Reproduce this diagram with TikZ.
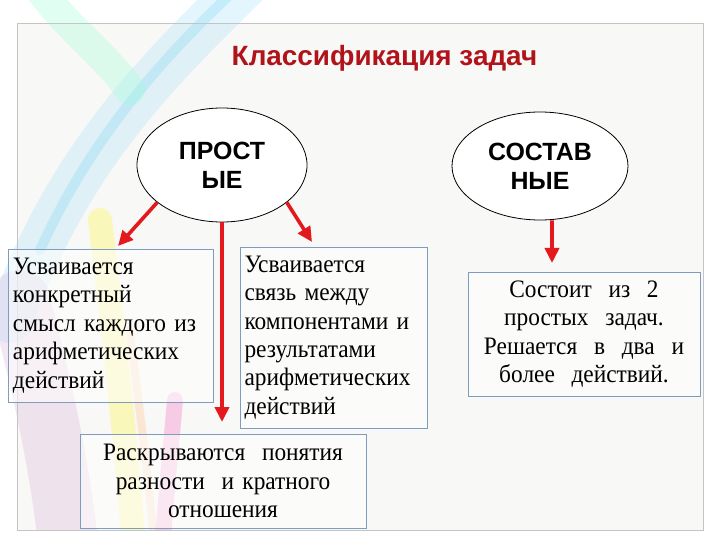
\documentclass[tikz,border=0pt]{standalone}
\usepackage{fontspec}
\setmainfont[FakeStretch=0.93]{Liberation Serif}
\newfontfamily\headfont{Liberation Sans}
\usetikzlibrary{arrows.meta,shapes.geometric}
\definecolor{titlered}{HTML}{B0141A}
\definecolor{arrowred}{HTML}{E3191E}
\definecolor{boxblue}{HTML}{7E9CC0}
\definecolor{framegrey}{HTML}{C4C4C4}
\definecolor{bgpaper}{HTML}{F8F8F6}
\tikzset{
  oval/.style={ellipse, draw=black, line width=0.8bp, fill=white, inner sep=0pt,
    align=center, font=\headfont\bfseries\fontsize{25}{29}\selectfont},
  textbox/.style={rectangle, draw=boxblue, line width=0.9bp, fill=white, fill opacity=0.55,
    text opacity=1, inner sep=0pt, font=\fontsize{25.2}{28.5}\selectfont},
  arr/.style={draw=arrowred, line width=3.6bp, -{Triangle[length=15bp,width=14bp,fill=arrowred]}},
  glow/.style={line cap=round, opacity=0.3}
}
\begin{document}
\begin{tikzpicture}[x=1bp,y=-1bp]
\useasboundingbox (0,0) rectangle (720,540);
\fill[white] (0,0) rectangle (720,540);
\fill[bgpaper] (17,23) rectangle (703,530);
% decorative rainbow swirl
\begin{scope}
\clip (0,0) rectangle (720,530);
\draw[glow, color=cyan!35, line width=46bp] (250,-20) .. controls (170,60) and (70,150) .. (10,320);
\draw[glow, color=cyan!50, line width=10bp] (235,-10) .. controls (160,60) and (90,140) .. (40,250);
\draw[glow, color=green!40!cyan!40, line width=30bp] (40,-10) .. controls (70,30) and (110,60) .. (130,90);
\draw[glow, color=violet!30, line width=60bp] (20,300) .. controls (40,380) and (60,460) .. (70,560);
\draw[glow, color=yellow!80, line width=24bp] (100,220) .. controls (112,320) and (125,430) .. (135,560);
\draw[glow, color=orange!50, line width=8bp] (130,330) .. controls (140,420) and (150,480) .. (155,560);
\draw[glow, color=magenta!60, line width=16bp] (175,400) .. controls (170,460) and (165,500) .. (162,560);
\end{scope}
\draw[framegrey, line width=0.8bp] (17,23) rectangle (703,530);

% title
\node[anchor=base, text=titlered, font=\headfont\bfseries\fontsize{28}{30}\selectfont] (title) at (384.5,66) {Классификация задач};

% ellipses
\node[oval, minimum width=170bp, minimum height=114bp] (p) at (222,165) {ПРОСТ\\ЫЕ};
\node[oval, minimum width=176bp, minimum height=108bp] (s) at (540,166) {СОСТАВ\\НЫЕ};

% boxes
\node[textbox, minimum width=205bp, minimum height=153bp, text width=195bp, align=left] (a) at (110.5,325.5)
  {Усваивается\\конкретный\\смысл каждого из\\арифметических\\действий};
\node[textbox, minimum width=187bp, minimum height=181bp, text width=178bp, align=left] (b) at (333.5,337.5)
  {Усваивается\\связь между\\компонентами и\\результатами\\арифметических\\действий};
\node[textbox, minimum width=286bp, minimum height=94bp, text width=280bp, align=center] (c) at (223,481)
  {Раскрываются\ \ понятия\\разности\ \ и кратного\\отношения};
\node[textbox, minimum width=232bp, minimum height=124bp, text width=226bp, align=center] (d) at (584,334)
  {Состоит\ \ из\ \ 2\\простых\ \ задач.\\Решается\ \ в\ \ два\ \ и\\более\ \ действий.};

% arrow tips
\coordinate (t1) at (118,246);
\coordinate (t2) at (222,422);
\coordinate (t3) at (312,242);
\coordinate (t4) at (552,263);
\draw[arr] (p.-150) -- (t1);
\draw[arr] (p.south) -- (t2);
\draw[arr] (p.-30) -- (t3);
\draw[arr] ([xshift=12bp]s.south) -- (t4);
\end{tikzpicture}
\end{document}
